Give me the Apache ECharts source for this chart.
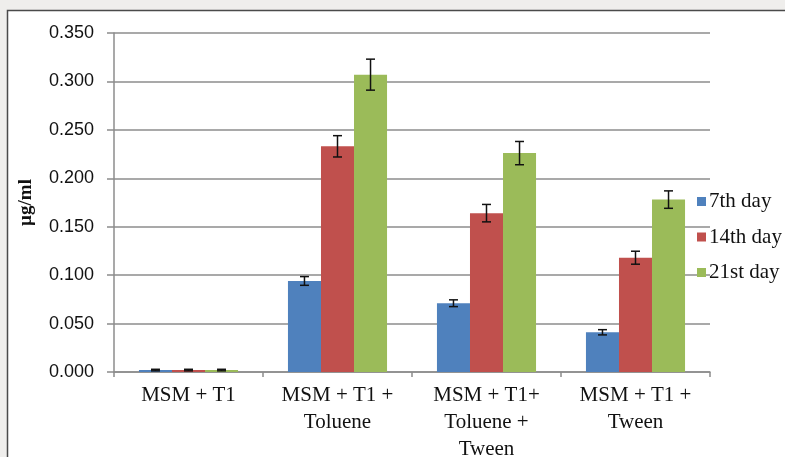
<!DOCTYPE html>
<html>
<head>
<meta charset="utf-8">
<script src="https://cdn.jsdelivr.net/npm/echarts@6/dist/echarts.min.js"></script>
<style>
html,body{margin:0;padding:0;background:#efeeec;}
#chart{width:785px;height:457px;}
</style>
</head>
<body>
<div id="chart"></div>
<script>
// Treatments and sampling days
const categories = ['MSM + T1', 'MSM + T1 +\nToluene', 'MSM + T1+\nToluene +\nTween', 'MSM + T1 +\nTween'];
const seriesNames = ['7th day', '14th day', '21st day'];

// Mean concentration (µg/ml)
const day7 = [0.002, 0.094, 0.071, 0.041];
const day14 = [0.002, 0.233, 0.164, 0.118];
const day21 = [0.002, 0.307, 0.226, 0.178];

// Standard error for each mean
const err7 = [0.0008, 0.0045, 0.0035, 0.0027];
const err14 = [0.0008, 0.011, 0.009, 0.0067];
const err21 = [0.0008, 0.016, 0.012, 0.009];

const yTicks = ['0.000', '0.050', '0.100', '0.150', '0.200', '0.250', '0.300', '0.350'];

const colors = ['#4f81bd', '#c0504d', '#9bbb59'];
const values = [day7, day14, day21];
const errors = [err7, err14, err21];
const CAT_GAP = 0.335;

const serif = '"Liberation Serif", "Times New Roman", serif';
const sans = '"Liberation Sans", Arial, sans-serif';

function errorSeries(k) {
  return {
    type: 'custom',
    name: seriesNames[k] + ' error',
    z: 5,
    silent: true,
    data: values[k].map((v, i) => [i, v, errors[k][i]]),
    renderItem: function (params, api) {
      const i = api.value(0), v = api.value(1), e = api.value(2);
      const band = api.size([1, 0])[0];
      const barW = band * (1 - CAT_GAP) / 3;
      const c = api.coord([i, v]);
      const x = c[0] + (k - 1) * barW;
      const yTop = api.coord([i, v + e])[1];
      const yBot = api.coord([i, v - e])[1];
      const cap = 4.5;
      const st = { stroke: '#111', lineWidth: 1.5 };
      return {
        type: 'group',
        children: [
          { type: 'line', shape: { x1: x, y1: yTop, x2: x, y2: yBot }, style: st },
          { type: 'line', shape: { x1: x - cap, y1: yTop, x2: x + cap, y2: yTop }, style: st },
          { type: 'line', shape: { x1: x - cap, y1: yBot, x2: x + cap, y2: yBot }, style: st }
        ]
      };
    }
  };
}

const chart = echarts.init(document.getElementById('chart'), null, { renderer: 'canvas' });

const barSeries = seriesNames.map((name, k) => ({
  type: 'bar',
  name: name,
  data: values[k],
  barGap: '0%',
  barCategoryGap: (CAT_GAP * 100) + '%',
  itemStyle: { color: colors[k] },
  z: 2
}));

chart.setOption({
  animation: false,
  backgroundColor: '#efeeec',
  textStyle: { fontFamily: serif },
  graphic: [{
    type: 'rect',
    z: -10,
    shape: { x: 7.5, y: 10.5, width: 800, height: 460 },
    style: { fill: '#ffffff', stroke: '#4a4a4a', lineWidth: 1.5 }
  }],
  grid: { left: 114, right: 75, top: 33, bottom: 85, containLabel: false, outerBoundsMode: 'none' },
  legend: {
    orient: 'vertical',
    left: 692,
    top: 186,
    itemWidth: 9,
    itemHeight: 9,
    itemGap: 14.5,
    icon: 'rect',
    data: seriesNames,
    textStyle: { fontFamily: serif, fontSize: 21, color: '#111', lineHeight: 21, padding: [0, 0, 0, -2] }
  },
  xAxis: {
    type: 'category',
    data: categories,
    axisLine: { lineStyle: { color: '#8c8c8c', width: 1.5 } },
    axisTick: { show: true, length: 5, alignWithLabel: false, lineStyle: { color: '#8c8c8c', width: 1.5 } },
    axisLabel: { fontFamily: serif, fontSize: 21, color: '#111', lineHeight: 27, margin: 10, interval: 0 }
  },
  yAxis: {
    type: 'value',
    min: 0,
    max: 0.35,
    interval: 0.05,
    name: 'µg/ml',
    nameLocation: 'middle',
    nameGap: 78,
    nameTextStyle: { fontFamily: serif, fontSize: 19, fontWeight: 'bold', color: '#111' },
    axisLine: { show: true, lineStyle: { color: '#8c8c8c', width: 1.5 } },
    axisTick: { show: true, length: 7, lineStyle: { color: '#8c8c8c', width: 1.5 } },
    splitLine: { lineStyle: { color: '#8c8c8c', width: 1.5 } },
    axisLabel: {
      fontFamily: sans, fontSize: 18, color: '#111', margin: 20,
      formatter: function (v) { return yTicks[Math.round(v / 0.05)]; }
    }
  },
  series: barSeries.concat([errorSeries(0), errorSeries(1), errorSeries(2)])
});
</script>
</body>
</html>
